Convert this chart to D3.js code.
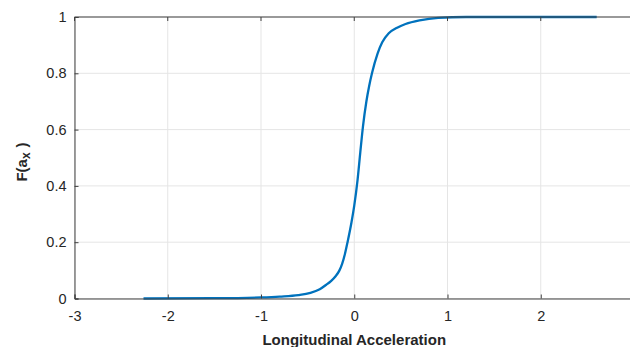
<!DOCTYPE html>
<html>
<head>
<meta charset="utf-8">
<script src="https://cdn.jsdelivr.net/npm/d3@7"></script>
<style>
  body { margin: 0; background: #fff; }
  svg { display: block; }
  text { font-family: "Liberation Sans", Arial, Helvetica, sans-serif; }
</style>
</head>
<body>
<div id="chart"></div>
<script>
const accel = [-2.26, -1.5, -1.0, -0.8, -0.6, -0.47, -0.37, -0.3, -0.25, -0.2, -0.16, -0.13, -0.1,
  -0.072, -0.03, 0.0, 0.035, 0.065, 0.093, 0.13, 0.16, 0.19, 0.25, 0.3, 0.37, 0.46, 0.55, 0.7, 0.9, 1.2, 2.6];
const cdf = [0, 0.001, 0.004, 0.007, 0.012, 0.02, 0.033, 0.049, 0.062, 0.079, 0.099, 0.123, 0.158,
  0.2, 0.27, 0.33, 0.42, 0.52, 0.61, 0.7, 0.755, 0.8, 0.87, 0.91, 0.942, 0.962, 0.975, 0.988, 0.997, 1, 1];
const xTicks = [-3, -2, -1, 0, 1, 2, 3];
const yTicks = [0, 0.2, 0.4, 0.6, 0.8, 1];

const width = 630, height = 347;
const margin = { left: 74.5, right: -4, top: 17, bottom: 48.5 };

const svg = d3.select('#chart').append('svg')
  .attr('width', width)
  .attr('height', height);

const x = d3.scaleLinear().domain([-3, 3]).range([margin.left, width - margin.right]);
const y = d3.scaleLinear().domain([0, 1]).range([height - margin.bottom, margin.top]);

// grid
svg.append('g')
  .attr('stroke', '#e5e5e5')
  .attr('stroke-width', 1)
  .selectAll('line')
  .data(xTicks)
  .join('line')
  .attr('x1', d => x(d)).attr('x2', d => x(d))
  .attr('y1', y(0)).attr('y2', y(1));

svg.append('g')
  .attr('stroke', '#e5e5e5')
  .attr('stroke-width', 1)
  .selectAll('line')
  .data(yTicks)
  .join('line')
  .attr('x1', x(-3)).attr('x2', x(3))
  .attr('y1', d => y(d)).attr('y2', d => y(d));

// curve
const pts = accel.map((a, i) => [a, cdf[i]]);
svg.append('path')
  .datum(pts)
  .attr('fill', 'none')
  .attr('stroke', '#0072BD')
  .attr('stroke-width', 2.3)
  .attr('stroke-linejoin', 'round')
  .attr('d', d3.line().x(d => x(d[0])).y(d => y(d[1])).curve(d3.curveMonotoneX));

// axes (ticks point inward like matlab), plain hyphen minus
const fmt = d => String(d);
const xAxis = svg.append('g')
  .attr('transform', `translate(0,${y(0)})`)
  .call(d3.axisBottom(x).tickValues(xTicks).tickSize(-4).tickPadding(12).tickFormat(fmt));

const yAxis = svg.append('g')
  .attr('transform', `translate(${x(-3)},0)`)
  .call(d3.axisLeft(y).tickValues(yTicks).tickSize(-4).tickPadding(8).tickFormat(fmt));

[xAxis, yAxis].forEach(g => {
  g.select('.domain').attr('stroke', '#404040');
  g.selectAll('.tick line').attr('stroke', '#404040');
  g.selectAll('.tick text')
    .attr('fill', '#262626')
    .style('font-size', '14.5px')
    .style('font-family', '"Liberation Sans", Arial, sans-serif');
});

// top box line
svg.append('line')
  .attr('x1', x(-3)).attr('x2', x(3))
  .attr('y1', y(1)).attr('y2', y(1))
  .attr('stroke', '#404040');
svg.append('g')
  .attr('stroke', '#404040')
  .selectAll('line')
  .data(xTicks)
  .join('line')
  .attr('x1', d => x(d)).attr('x2', d => x(d))
  .attr('y1', y(1)).attr('y2', y(1) + 4);

// labels
svg.append('text')
  .attr('x', x(0))
  .attr('y', 345)
  .attr('text-anchor', 'middle')
  .attr('fill', '#262626')
  .style('font-size', '15px')
  .style('font-weight', 'bold')
  .text('Longitudinal Acceleration');

const yl = svg.append('text')
  .attr('transform', 'translate(26.5,162) rotate(-90)')
  .attr('text-anchor', 'middle')
  .attr('fill', '#262626')
  .style('font-size', '15px')
  .style('font-weight', 'bold');
yl.append('tspan').text('F(a');
yl.append('tspan').attr('dy', 3).style('font-size', '12px').text('x');
yl.append('tspan').attr('dy', -3).attr('dx', 5).text(')');
</script>
</body>
</html>
